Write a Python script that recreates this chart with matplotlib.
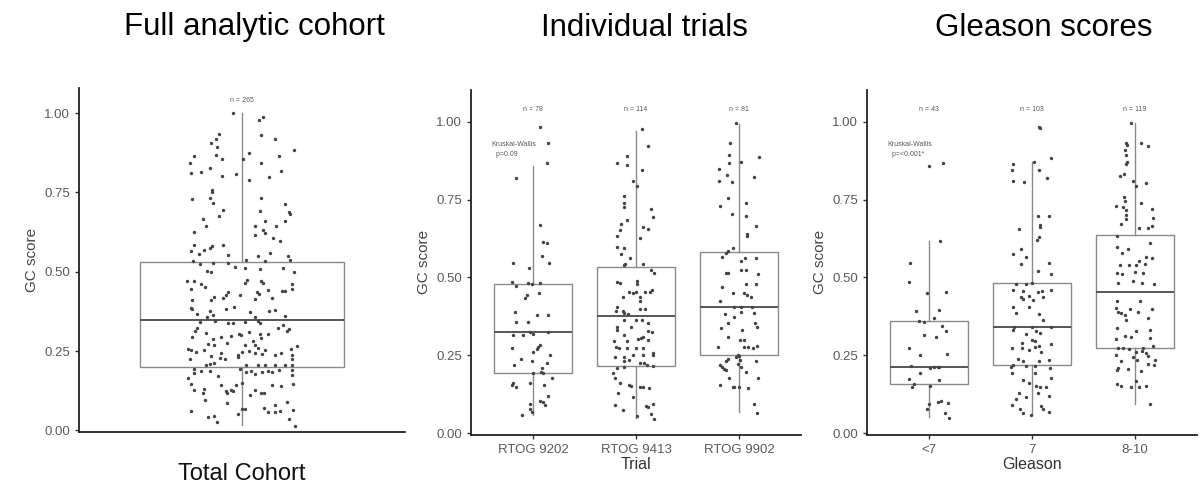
import matplotlib
matplotlib.use("Agg")
import matplotlib.pyplot as plt

plt.rcParams['font.family'] = ['Liberation Sans', 'DejaVu Sans']

# ---- data ----
# Full analytic cohort (n = 265): GC score and horizontal jitter
cohort_gc = [1.00, 0.978, 0.988, 0.931, 0.92, 0.933, 0.92, 0.906, 0.892, 0.883, 0.865, 0.865, 0.868, 0.856,
             0.854, 0.873, 0.844, 0.844, 0.828, 0.815, 0.81, 0.802, 0.808, 0.817, 0.799, 0.789, 0.757, 0.75,
             0.728, 0.733, 0.717, 0.733, 0.715, 0.696, 0.692, 0.689, 0.683, 0.676, 0.66, 0.666, 0.659, 0.645,
             0.645, 0.645, 0.631, 0.622, 0.625, 0.615, 0.608, 0.597, 0.586, 0.584, 0.58, 0.575, 0.57, 0.565,
             0.557, 0.552, 0.56, 0.551, 0.55, 0.536, 0.533, 0.526, 0.529, 0.528, 0.538, 0.533,
             0.502, 0.499, 0.515, 0.512, 0.51, 0.512, 0.499, 0.47, 0.47, 0.463, 0.452, 0.445, 0.473, 0.466,
             0.466, 0.47, 0.46, 0.445, 0.438, 0.438, 0.442, 0.436, 0.431, 0.415, 0.436, 0.428, 0.417, 0.421,
             0.41, 0.426, 0.417, 0.41, 0.386, 0.384, 0.368, 0.375, 0.365, 0.358, 0.384, 0.389, 0.373, 0.358,
             0.375, 0.381, 0.361, 0.342, 0.344, 0.34, 0.34, 0.342, 0.344, 0.34, 0.323, 0.331, 0.312, 0.321,
             0.323, 0.314, 0.295, 0.307, 0.294, 0.289, 0.298, 0.305, 0.30, 0.31, 0.305, 0.303, 0.281, 0.291,
             0.273, 0.268, 0.277, 0.27, 0.268, 0.26, 0.252, 0.265, 0.258, 0.258, 0.254, 0.247, 0.252, 0.245,
             0.247, 0.249, 0.245, 0.242, 0.234, 0.228, 0.231, 0.239, 0.237, 0.245, 0.237, 0.226, 0.224, 0.224,
             0.205, 0.21, 0.213, 0.207, 0.205, 0.205, 0.205, 0.207, 0.205, 0.195, 0.186, 0.182, 0.186, 0.173,
             0.195, 0.184, 0.186, 0.179, 0.184, 0.186, 0.184, 0.192, 0.192, 0.176, 0.165, 0.147, 0.129, 0.131,
             0.118, 0.142, 0.142, 0.15, 0.126, 0.119, 0.119, 0.142, 0.14, 0.147, 0.123, 0.129, 0.123, 0.119,
             0.113, 0.097, 0.087, 0.066, 0.07, 0.058, 0.058, 0.061, 0.091, 0.063, 0.06, 0.042, 0.047, 0.028,
             0.053, 0.079, 0.037, 0.014, 0.068]
cohort_jit = [-0.033, 0.062, 0.077, 0.071, 0.12, -0.086, -0.097, -0.113, -0.091, 0.192, 0.135, -0.177, -0.095,
              -0.074, 0.004, 0.025, 0.069, -0.193, -0.116, -0.15, -0.189, -0.074, -0.021, 0.145, 0.098, 0.025,
              -0.11, -0.11, -0.183, -0.117, -0.107, 0.071, 0.157, -0.07, 0.065, 0.173, 0.176, -0.085, 0.084,
              -0.144, 0.16, -0.134, 0.049, 0.127, 0.077, 0.084, -0.177, 0.049, 0.113, 0.141, -0.177, -0.07,
              -0.11, -0.119, -0.138, -0.189, -0.16, -0.052, 0.102, 0.059, 0.17, 0.176, -0.181, -0.154, -0.107,
              -0.052, 0.016, 0.086,
              -0.128, -0.113, -0.025, 0.012, 0.065, 0.151, 0.192, -0.202, -0.177, -0.15, -0.135, -0.189, 0.02,
              0.01, 0.078, 0.071, 0.185, 0.185, 0.16, 0.148, 0.094, 0.057, 0.062, 0.049, -0.052, -0.058, -0.07,
              -0.103, -0.113, -0.009, 0.111, -0.184, -0.189, -0.184, -0.165, -0.119, -0.107, -0.128, -0.058,
              -0.029, 0.028, 0.049, 0.098, 0.121, 0.157, -0.156, -0.098, -0.052, -0.033, 0.01, 0.059, 0.065,
              0.133, 0.151, 0.164, 0.172, -0.165, -0.172, -0.184, -0.132, -0.079, -0.107, -0.039, -0.012, -0.005,
              0.025, 0.065, 0.094, 0.041, 0.071, -0.125, -0.103, -0.054, 0.012, 0.049, 0.059, 0.084, 0.201,
              0.18, -0.199, -0.187, -0.168, -0.138, -0.076, 0.0, 0.025, 0.049, 0.074, -0.113, -0.082, -0.015,
              -0.015, 0.123, 0.145, 0.185, 0.185, -0.193, -0.061, -0.132, -0.116, -0.103, 0.016, 0.059, 0.084,
              0.121, 0.16, 0.185, -0.175, -0.15, -0.177, -0.119, -0.088, -0.009, 0.016, 0.035, 0.049, 0.074,
              0.094, 0.111, 0.136, 0.185, 0.185, -0.197, -0.189, -0.175, -0.14, -0.144, -0.079, -0.021, 0.0,
              0.049, 0.069, 0.081, 0.111, 0.143, 0.188, -0.058, -0.039, -0.033, -0.054, 0.028, -0.135, -0.054,
              0.0, 0.081, 0.096, 0.121, 0.139, 0.164, 0.188, -0.189, -0.125, -0.103, -0.091, -0.015, 0.121,
              0.172, 0.194, 0.01]

# Individual trials
trial_labels = ["RTOG 9202", "RTOG 9413", "RTOG 9902"]
trial_n = [78, 114, 81]
rtog9202_gc = [0.985, 0.931, 0.867, 0.819, 0.669, 0.615, 0.61, 0.569, 0.548, 0.546, 0.529, 0.484, 0.474, 0.481,
               0.479, 0.481, 0.444, 0.433, 0.451, 0.39, 0.379, 0.379, 0.358, 0.358, 0.326, 0.326, 0.315, 0.315,
               0.32, 0.275, 0.278, 0.283, 0.269, 0.262, 0.237, 0.233, 0.251, 0.224, 0.219, 0.208, 0.197, 0.176,
               0.192, 0.192, 0.154, 0.149, 0.16, 0.16, 0.154, 0.12, 0.104, 0.101, 0.095, 0.09, 0.079, 0.058, 0.069]
rtog9202_jit = [0.068, 0.149, 0.133, -0.159, 0.068, 0.1, 0.133, 0.084, 0.159, -0.191, -0.036, -0.207, -0.165,
                -0.045, -0.013, 0.068, -0.061, -0.078, 0.061, -0.175, 0.036, 0.149, -0.165, -0.045, -0.029, 0.149,
                -0.191, -0.094, 0.003, -0.207, 0.052, 0.068, 0.036, -0.003, -0.12, -0.006, 0.165, 0.133, -0.185,
                0.084, 0.074, 0.181, 0.1, 0.003, -0.207, -0.165, -0.191, -0.029, 0.107, 0.149, 0.068, 0.1, -0.029,
                0.117, -0.029, -0.11, -0.013]
rtog9413_gc = [0.976, 0.921, 0.867, 0.891, 0.862, 0.846, 0.811, 0.794, 0.762, 0.738, 0.725, 0.72, 0.694, 0.685,
               0.672, 0.663, 0.656, 0.653, 0.626, 0.633, 0.597, 0.594, 0.576, 0.562, 0.543, 0.543, 0.54, 0.524,
               0.513, 0.484, 0.483, 0.49, 0.479, 0.454, 0.454, 0.451, 0.454, 0.454, 0.46, 0.438, 0.436, 0.426,
               0.404, 0.392, 0.391, 0.387, 0.398, 0.398, 0.383, 0.365, 0.363, 0.365, 0.353, 0.342, 0.331, 0.34,
               0.329, 0.326, 0.315, 0.31, 0.301, 0.297, 0.295, 0.305, 0.299, 0.278, 0.272, 0.275, 0.272, 0.275,
               0.256, 0.251, 0.245, 0.243, 0.251, 0.251, 0.233, 0.235, 0.224, 0.224, 0.219, 0.215, 0.211, 0.208,
               0.192, 0.176, 0.16, 0.153, 0.151, 0.149, 0.147, 0.146, 0.128, 0.115, 0.09, 0.074, 0.087, 0.083,
               0.095, 0.063, 0.055, 0.044]
rtog9413_jit = [0.055, 0.113, -0.188, -0.091, -0.084, 0.055, -0.032, 0.006, -0.117, -0.117, -0.117, 0.142, 0.162,
                -0.091, -0.149, 0.071, 0.12, -0.155, 0.039, -0.188, -0.188, -0.117, -0.149, -0.058, -0.107, 0.071,
                -0.117, 0.142, 0.175, -0.188, -0.155, 0.006, 0.006, 0.0, -0.065, -0.026, 0.087, 0.136, 0.152,
                -0.129, 0.039, 0.039, -0.188, -0.194, -0.123, -0.117, 0.039, 0.087, -0.074, -0.117, 0.0, 0.055,
                0.12, -0.188, -0.188, -0.052, 0.12, 0.152, -0.117, 0.065, 0.023, -0.091, -0.214, 0.045, 0.12,
                -0.194, -0.162, -0.084, 0.0, 0.065, 0.168, 0.168, -0.204, -0.117, -0.026, 0.071, -0.117, -0.065,
                0.039, 0.078, 0.104, 0.168, -0.117, -0.188, -0.22, -0.204, -0.155, -0.065, -0.052, 0.039, 0.065,
                0.129, -0.172, -0.026, -0.204, -0.123, 0.097, 0.12, 0.168, 0.142, 0.006, 0.175]
rtog9902_gc = [0.996, 0.931, 0.894, 0.872, 0.869, 0.886, 0.848, 0.83, 0.811, 0.808, 0.822, 0.755, 0.738, 0.73,
               0.703, 0.698, 0.666, 0.64, 0.633, 0.594, 0.586, 0.58, 0.567, 0.554, 0.562, 0.562, 0.516, 0.513,
               0.524, 0.524, 0.511, 0.468, 0.479, 0.479, 0.449, 0.451, 0.444, 0.438, 0.426, 0.404, 0.406, 0.404,
               0.383, 0.39, 0.387, 0.374, 0.353, 0.353, 0.342, 0.337, 0.331, 0.308, 0.299, 0.299, 0.278, 0.278,
               0.278, 0.272, 0.28, 0.251, 0.245, 0.248, 0.237, 0.233, 0.235, 0.233, 0.219, 0.211, 0.205, 0.203,
               0.222, 0.213, 0.197, 0.176, 0.176, 0.156, 0.149, 0.147, 0.147, 0.144, 0.093, 0.066]
rtog9902_jit = [-0.029, -0.084, -0.094, 0.019, -0.094, 0.188, -0.191, -0.117, -0.191, -0.071, 0.149, -0.104,
                0.068, -0.181, -0.071, 0.068, 0.165, 0.078, 0.078, -0.061, -0.11, -0.126, -0.168, 0.019, 0.061,
                0.165, -0.126, -0.104, 0.019, 0.068, 0.181, -0.168, 0.068, 0.165, -0.061, 0.052, 0.078, 0.117,
                -0.181, -0.045, 0.019, 0.123, -0.136, 0.019, 0.149, -0.045, -0.11, 0.155, 0.175, -0.175, 0.026,
                -0.104, 0.013, 0.052, 0.084, -0.201, 0.052, 0.133, 0.175, -0.013, -0.029, 0.003, -0.11, -0.126,
                0.013, 0.165, -0.181, -0.168, -0.149, -0.126, -0.013, 0.019, 0.068, 0.181, -0.094, -0.181, -0.061,
                -0.045, 0.003, 0.084, 0.149, 0.175]
# box stats per trial: whisker low, q1, median, q3, whisker high
trial_whislo = [0.058, 0.047, 0.069]
trial_q1 = [0.193, 0.217, 0.251]
trial_med = [0.324, 0.377, 0.406]
trial_q3 = [0.478, 0.535, 0.583]
trial_whishi = [0.859, 0.972, 0.994]

# Gleason scores
gleason_labels = ["<7", "7", "8-10"]
gleason_n = [43, 103, 119]
gl_lt7_gc = [0.859, 0.867, 0.617, 0.546, 0.484, 0.451, 0.454, 0.393, 0.396, 0.361, 0.358, 0.369, 0.344, 0.329,
             0.315, 0.308, 0.275, 0.251, 0.253, 0.215, 0.208, 0.211, 0.211, 0.213, 0.192, 0.173, 0.17, 0.158,
             0.149, 0.151, 0.095, 0.101, 0.104, 0.098, 0.079, 0.065, 0.047]
gl_lt7_jit = [-0.003, 0.133, 0.107, -0.184, -0.197, -0.023, 0.165, -0.126, 0.1, -0.1, -0.045, 0.052, 0.126, 0.165,
              -0.045, 0.068, -0.197, -0.087, 0.172, -0.175, 0.01, 0.052, 0.084, 0.1, -0.087, -0.191, 0.1, -0.142,
              -0.165, 0.01, 0.003, 0.084, 0.117, 0.181, -0.023, 0.159, 0.191]
gl_7_gc = [0.985, 0.98, 0.865, 0.872, 0.885, 0.846, 0.846, 0.811, 0.808, 0.821, 0.698, 0.698, 0.669, 0.663, 0.655,
           0.629, 0.621, 0.576, 0.591, 0.565, 0.543, 0.548, 0.522, 0.511, 0.481, 0.479, 0.479, 0.46, 0.458, 0.454,
           0.458, 0.46, 0.438, 0.43, 0.441, 0.428, 0.438, 0.406, 0.404, 0.387, 0.383, 0.363, 0.34, 0.34, 0.34,
           0.331, 0.329, 0.323, 0.32, 0.299, 0.288, 0.297, 0.275, 0.275, 0.278, 0.28, 0.286, 0.267, 0.262, 0.237,
           0.233, 0.219, 0.233, 0.235, 0.213, 0.215, 0.215, 0.208, 0.192, 0.194, 0.176, 0.17, 0.162, 0.151, 0.147,
           0.147, 0.13, 0.13, 0.111, 0.115, 0.119, 0.09, 0.079, 0.065, 0.087, 0.079, 0.069, 0.058]
gl_7_jit = [0.065, 0.078, -0.181, 0.023, 0.184, -0.194, 0.065, -0.181, -0.074, 0.142, 0.055, 0.162, 0.078, 0.078,
            -0.129, 0.065, 0.045, -0.188, -0.107, -0.058, -0.107, 0.168, 0.055, 0.184, 0.0, -0.155, -0.058, -0.188,
            -0.084, 0.055, 0.097, 0.184, -0.107, -0.084, -0.032, 0.013, 0.104, -0.188, -0.032, -0.155, 0.065,
            0.104, -0.172, 0.0, 0.184, -0.181, 0.039, 0.078, -0.058, 0.0, -0.097, 0.032, -0.194, -0.097, 0.032,
            0.071, 0.184, -0.026, 0.087, -0.139, -0.084, -0.181, 0.071, 0.168, -0.204, -0.058, 0.032, 0.175,
            -0.194, 0.032, 0.184, -0.084, -0.026, 0.039, 0.078, 0.136, -0.129, 0.055, -0.155, -0.058, 0.162,
            -0.194, -0.117, -0.084, 0.087, 0.11, 0.168, -0.01]
gl_8_10_gc = [0.996, 0.931, 0.926, 0.931, 0.921, 0.908, 0.894, 0.872, 0.865, 0.826, 0.833, 0.811, 0.805, 0.794,
              0.758, 0.747, 0.73, 0.728, 0.717, 0.738, 0.719, 0.701, 0.687, 0.672, 0.69, 0.658, 0.658, 0.666,
              0.633, 0.61, 0.597, 0.591, 0.58, 0.567, 0.554, 0.562, 0.54, 0.54, 0.54, 0.543, 0.513, 0.511, 0.519,
              0.516, 0.483, 0.49, 0.481, 0.479, 0.426, 0.426, 0.401, 0.39, 0.385, 0.379, 0.398, 0.39, 0.398, 0.365,
              0.369, 0.337, 0.329, 0.331, 0.312, 0.301, 0.31, 0.304, 0.275, 0.272, 0.269, 0.275, 0.28, 0.262,
              0.265, 0.258, 0.248, 0.243, 0.251, 0.233, 0.235, 0.235, 0.222, 0.219, 0.208, 0.203, 0.205, 0.2,
              0.168, 0.158, 0.151, 0.149, 0.147, 0.151, 0.093]
gl_8_10_jit = [-0.036, -0.091, -0.078, 0.061, 0.126, -0.1, -0.084, -0.078, -0.091, -0.142, -0.11, -0.019, 0.104,
               0.013, -0.11, -0.1, -0.181, -0.117, -0.091, 0.061, 0.159, -0.084, -0.084, -0.133, 0.175, 0.039,
               0.126, 0.159, -0.175, 0.142, -0.175, -0.068, -0.123, 0.11, 0.039, 0.168, -0.142, -0.058, 0.013,
               0.094, -0.175, -0.123, -0.003, 0.078, -0.165, -0.019, 0.071, 0.181, -0.175, 0.052, -0.181, -0.165,
               -0.133, -0.1, -0.052, 0.029, 0.159, -0.084, 0.126, -0.175, 0.013, 0.142, -0.1, -0.181, -0.036,
               0.149, -0.165, -0.117, -0.058, 0.078, 0.175, 0.013, 0.071, 0.11, 0.126, -0.019, -0.181, -0.133,
               0.019, 0.191, 0.126, 0.181, -0.165, -0.175, -0.068, 0.061, 0.013, -0.175, -0.133, -0.036, 0.039,
               0.11, 0.142]
gleason_whislo = [0.053, 0.058, 0.093]
gleason_q1 = [0.158, 0.218, 0.272]
gleason_med = [0.212, 0.34, 0.452]
gleason_q3 = [0.36, 0.481, 0.637]
gleason_whishi = [0.617, 0.872, 0.996]

cohort_box = dict(whislo=0.016, q1=0.20, med=0.347, q3=0.531, whishi=1.0)

# ---- style ----
pt_col = "#444444"
box_col = "#8a8a8a"
txt_col = "#5a5a5a"


def style_axes(ax):
    for s in ["top", "right"]:
        ax.spines[s].set_visible(False)
    for s in ["left", "bottom"]:
        ax.spines[s].set_linewidth(1.3)
        ax.spines[s].set_color("#222222")
    ax.set_yticks([0, 0.25, 0.5, 0.75, 1.0])
    ax.set_yticklabels(["0.00", "0.25", "0.50", "0.75", "1.00"])
    ax.tick_params(axis="both", colors="#333333", labelcolor=txt_col, labelsize=9.5, length=3, width=1)
    ax.set_ylabel("GC score", fontsize=11, color="#444444", labelpad=4)


def draw_boxes(ax, stats, positions):
    ax.bxp(stats, positions=positions, widths=0.75, showfliers=False, showcaps=False,
           patch_artist=True,
           boxprops=dict(facecolor="white", edgecolor=box_col, linewidth=1.0),
           whiskerprops=dict(color=box_col, linewidth=1.0),
           medianprops=dict(color="#555555", linewidth=1.4), zorder=1)


fig = plt.figure(figsize=(12, 4.96), dpi=100)

# panel 1
ax1 = fig.add_axes([0.0658, 0.129, 0.2717, 0.694])
draw_boxes(ax1, [cohort_box], [1])
ax1.scatter([1 + j for j in cohort_jit], cohort_gc, s=6, color=pt_col, zorder=3, linewidths=0)
ax1.text(1, 1.04, "n = 265", fontsize=5, color=txt_col, ha="center", va="center")
ax1.set_xlim(0.4, 1.6)
ax1.set_ylim(-0.005, 1.08)
style_axes(ax1)
ax1.set_xticks([])
ax1.set_xlabel("Total Cohort", fontsize=17, color="#111111", labelpad=22)

# panel 2
ax2 = fig.add_axes([0.3925, 0.123, 0.275, 0.696])
stats2 = [dict(whislo=trial_whislo[i], q1=trial_q1[i], med=trial_med[i], q3=trial_q3[i],
               whishi=trial_whishi[i]) for i in range(3)]
draw_boxes(ax2, stats2, [1, 2, 3])
for k, (gc, jit) in enumerate([(rtog9202_gc, rtog9202_jit), (rtog9413_gc, rtog9413_jit),
                               (rtog9902_gc, rtog9902_jit)]):
    ax2.scatter([k + 1 + j for j in jit], gc, s=6, color=pt_col, zorder=3, linewidths=0)
    ax2.text(k + 1, 1.04, "n = %d" % trial_n[k], fontsize=5, color=txt_col, ha="center", va="center")
ax2.text(0.6, 0.91, "Kruskal-Wallis\n  p=0.09", fontsize=5, color=txt_col, ha="left", va="center",
         linespacing=1.6)
ax2.set_xlim(0.4, 3.6)
ax2.set_ylim(-0.006, 1.103)
style_axes(ax2)
ax2.set_xticks([1, 2, 3])
ax2.set_xticklabels(trial_labels)
ax2.set_xlabel("Trial", fontsize=11.5, color="#333333", labelpad=1)

# panel 3
ax3 = fig.add_axes([0.7225, 0.123, 0.275, 0.696])
stats3 = [dict(whislo=gleason_whislo[i], q1=gleason_q1[i], med=gleason_med[i], q3=gleason_q3[i],
               whishi=gleason_whishi[i]) for i in range(3)]
draw_boxes(ax3, stats3, [1, 2, 3])
for k, (gc, jit) in enumerate([(gl_lt7_gc, gl_lt7_jit), (gl_7_gc, gl_7_jit), (gl_8_10_gc, gl_8_10_jit)]):
    ax3.scatter([k + 1 + j for j in jit], gc, s=6, color=pt_col, zorder=3, linewidths=0)
    ax3.text(k + 1, 1.04, "n = %d" % gleason_n[k], fontsize=5, color=txt_col, ha="center", va="center")
ax3.text(0.6, 0.91, "Kruskal-Wallis\n  p=<0.001*", fontsize=5, color=txt_col, ha="left", va="center",
         linespacing=1.6)
ax3.set_xlim(0.4, 3.6)
ax3.set_ylim(-0.006, 1.103)
style_axes(ax3)
ax3.set_xticks([1, 2, 3])
ax3.set_xticklabels(gleason_labels)
ax3.set_xlabel("Gleason", fontsize=11.5, color="#333333", labelpad=1)

# titles
fig.text(254 / 1200, 1 - 27 / 496, "Full analytic cohort", fontsize=22.5, ha="center", va="center")
fig.text(644 / 1200, 1 - 28 / 496, "Individual trials", fontsize=22.5, ha="center", va="center")
fig.text(1044 / 1200, 1 - 28 / 496, "Gleason scores", fontsize=22.5, ha="center", va="center")

fig.savefig("out.png", dpi=100, facecolor="white")
